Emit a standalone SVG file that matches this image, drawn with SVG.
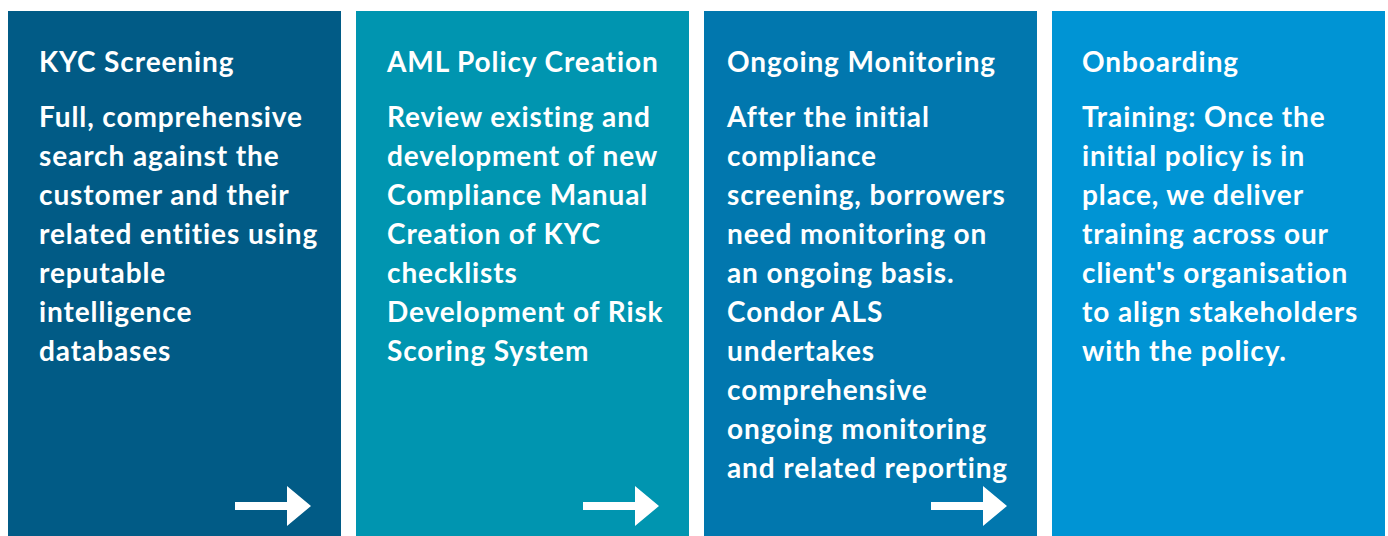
<svg xmlns="http://www.w3.org/2000/svg" width="1388" height="536" viewBox="0 0 1388 536">
<style>
.t{font-family:Lato,"Open Sans","Liberation Sans",sans-serif;font-weight:bold;font-size:28px;letter-spacing:0.9px;fill:#ffffff}
.arr{fill:#ffffff}
</style>
<defs>
<path id="arrow" d="M0 -4 H52 V-20 L76 0 L52 20 V4 H0 Z"/>
</defs>
<rect width="1388" height="536" fill="#ffffff"/>
<g id="node-kyc">
<rect x="8" y="11" width="333" height="525" fill="#015B86"/>
<text class="t" x="39" y="72">KYC Screening</text>
<text class="t" x="39" y="127">Full, comprehensive</text>
<text class="t" x="39" y="166">search against the</text>
<text class="t" x="39" y="205">customer and their</text>
<text class="t" x="39" y="244">related entities using</text>
<text class="t" x="39" y="283">reputable</text>
<text class="t" x="39" y="322">intelligence</text>
<text class="t" x="39" y="361">databases</text>
</g>
<g id="node-aml">
<rect x="356" y="11" width="333" height="525" fill="#0095B0"/>
<text class="t" x="387" y="72">AML Policy Creation</text>
<text class="t" x="387" y="127">Review existing and</text>
<text class="t" x="387" y="166">development of new</text>
<text class="t" x="387" y="205">Compliance Manual</text>
<text class="t" x="387" y="244">Creation of KYC</text>
<text class="t" x="387" y="283">checklists</text>
<text class="t" x="387" y="322">Development of Risk</text>
<text class="t" x="387" y="361">Scoring System</text>
</g>
<g id="node-monitoring">
<rect x="704" y="11" width="333" height="525" fill="#0177AE"/>
<text class="t" x="727" y="72">Ongoing Monitoring</text>
<text class="t" x="727" y="127">After the initial</text>
<text class="t" x="727" y="166">compliance</text>
<text class="t" x="727" y="205">screening, borrowers</text>
<text class="t" x="727" y="244">need monitoring on</text>
<text class="t" x="727" y="283">an ongoing basis.</text>
<text class="t" x="727" y="322">Condor ALS</text>
<text class="t" x="727" y="361">undertakes</text>
<text class="t" x="727" y="400">comprehensive</text>
<text class="t" x="727" y="439">ongoing monitoring</text>
<text class="t" x="727" y="478">and related reporting</text>
</g>
<g id="node-onboarding">
<rect x="1052" y="11" width="333" height="525" fill="#0094D4"/>
<text class="t" x="1082" y="72">Onboarding</text>
<text class="t" x="1082" y="127">Training: Once the</text>
<text class="t" x="1082" y="166">initial policy is in</text>
<text class="t" x="1082" y="205">place, we deliver</text>
<text class="t" x="1082" y="244">training across our</text>
<text class="t" x="1082" y="283">client's organisation</text>
<text class="t" x="1082" y="322">to align stakeholders</text>
<text class="t" x="1082" y="361">with the policy.</text>
</g>
<g id="connectors">
<use href="#arrow" class="arr" x="235" y="506"/>
<use href="#arrow" class="arr" x="583" y="506"/>
<use href="#arrow" class="arr" x="931" y="506"/>
</g>
</svg>
